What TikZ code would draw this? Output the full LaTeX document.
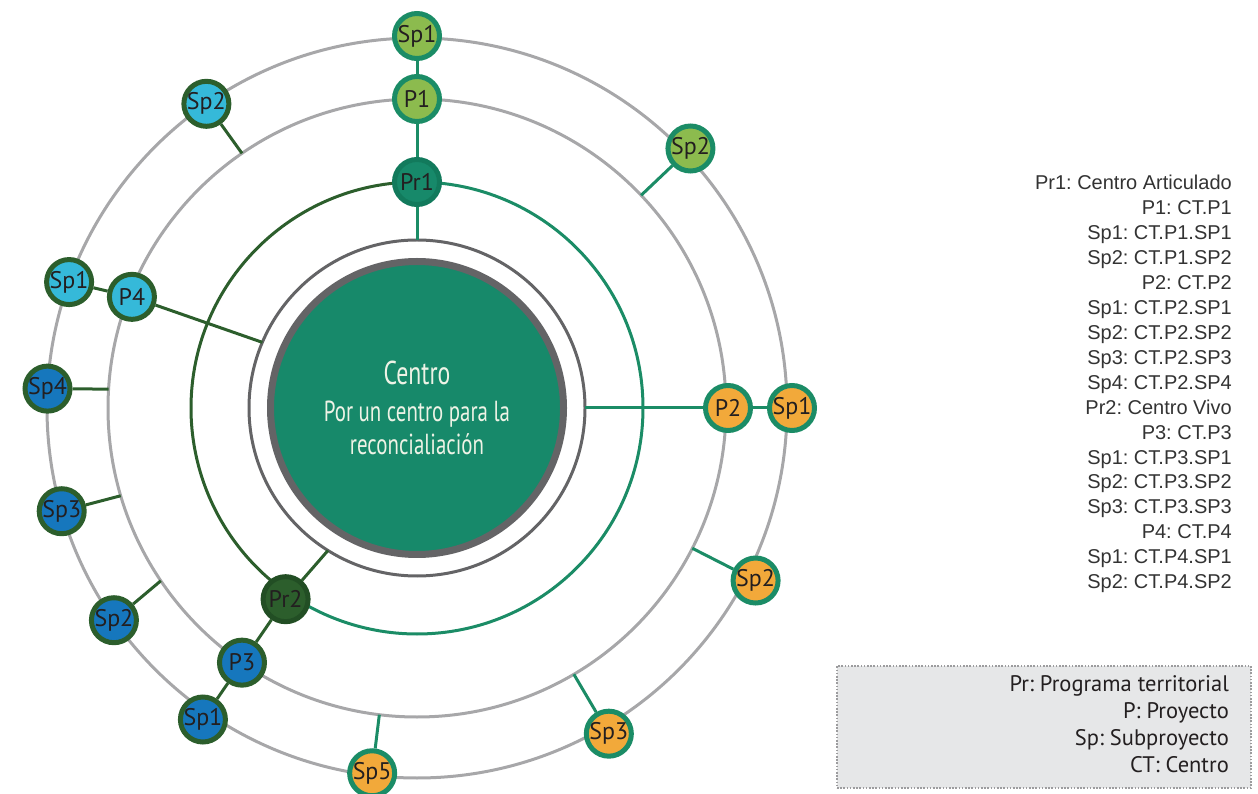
\documentclass[tikz,border=0pt]{standalone}
\usepackage{fontspec}
\usetikzlibrary{calc}
\frenchspacing
\newfontfamily\nodefont{PT Sans}
\newfontfamily\condfont[FakeStretch=0.72]{PT Sans}
\newfontfamily\legfont{Liberation Sans}
\definecolor{tealA}{HTML}{17896A}
\definecolor{tealB}{HTML}{1B8C66}
\definecolor{tealD}{HTML}{127A5C}
\definecolor{dgreen}{HTML}{2C5E2C}
\definecolor{dgreenB}{HTML}{224E24}
\definecolor{lgreen}{HTML}{8CBB4E}
\definecolor{orangeA}{HTML}{F2A93A}
\definecolor{blueA}{HTML}{1677BD}
\definecolor{cyanA}{HTML}{35B9D9}
\definecolor{ringgray}{HTML}{A7A7A9}
\definecolor{darkgray}{HTML}{646466}
\definecolor{txt}{HTML}{231F20}
\definecolor{legtxt}{HTML}{333333}
\definecolor{boxfill}{HTML}{E6E7E8}
\definecolor{boxline}{HTML}{9C9C9E}
\definecolor{ctext}{HTML}{EEF3E6}
\begin{document}
\begin{tikzpicture}[x=1pt,y=1pt,
  ring/.style={draw=ringgray,line width=3pt},
  thinring/.style={draw=darkgray,line width=3pt},
  tline/.style={draw=tealB,line width=3pt},
  dline/.style={draw=dgreen,line width=3pt},
  bub/.style={circle,minimum size=45pt,inner sep=0pt,line width=5pt,
    font=\nodefont\fontsize{24}{26}\selectfont,text=txt},
  bgreen/.style={bub,fill=lgreen,draw=tealB},
  borange/.style={bub,fill=orangeA,draw=tealB},
  bteal/.style={bub,fill=tealA,draw=tealD},
  bdark/.style={bub,fill=dgreen,draw=dgreenB},
  bblue/.style={bub,fill=blueA,draw=dgreen},
  bcyan/.style={bub,fill=cyanA,draw=dgreen}]
\useasboundingbox (0,0) rectangle (1258,793);
\coordinate (O) at (417,385);
% rings
\draw[ring] (O) circle[radius=370];
\draw[ring] (O) circle[radius=309];
\draw[tline] ($(O)+(90:226)$) arc[start angle=90,end angle=-125,radius=226];
\draw[dline] ($(O)+(90:226)$) arc[start angle=90,end angle=235,radius=226];
\draw[thinring] (O) circle[radius=168];
% disc
\node[circle,minimum size=293pt,inner sep=0pt,fill=tealA,draw=darkgray,line width=7pt,
  text=ctext,align=center,font=\condfont\fontsize{29}{33}\selectfont] (centro) at (O)
  {{\fontsize{33}{33}\selectfont Centro}\\[4pt]
   Por un centro para la\\
   reconcialiación};
% ring coordinates
\coordinate (t90) at ($(O)+(90:168)$);
\coordinate (t0) at ($(O)+(0:168)$);
\coordinate (t238) at ($(O)+(238:168)$);
\coordinate (t157) at ($(O)+(157:168)$);
\coordinate (m44) at ($(O)+(43.5:309)$);
\coordinate (m333) at ($(O)+(-27:309)$);
\coordinate (m300) at ($(O)+(-59.5:309)$);
\coordinate (m263) at ($(O)+(-97:309)$);
\coordinate (m214) at ($(O)+(214:309)$);
\coordinate (m196) at ($(O)+(196.5:309)$);
\coordinate (m176) at ($(O)+(176.5:309)$);
\coordinate (m124) at ($(O)+(124.5:309)$);
% nodes
\node[bgreen] (sp1a) at ($(O)+(90:372)$) {Sp1};
\node[bgreen] (p1) at ($(O)+(90:309)$) {P1};
\node[bteal] (pr1) at ($(O)+(90:226)$) {Pr1};
\node[bgreen] (sp2a) at ($(O)+(43.5:377)$) {Sp2};
\node[borange] (p2) at ($(O)+(0:311)$) {P2};
\node[borange] (sp1b) at ($(O)+(0:375)$) {Sp1};
\node[borange] (sp2b) at ($(O)+(-27:380)$) {Sp2};
\node[borange] (sp3b) at ($(O)+(-59.5:378)$) {Sp3};
\node[borange] (sp5b) at ($(O)+(-97:368)$) {Sp5};
\node[bdark] (pr2) at ($(O)+(235.5:232)$) {Pr2};
\node[bblue] (p3) at ($(O)+(235.5:309)$) {P3};
\node[bblue] (sp1c) at ($(O)+(235.5:378)$) {Sp1};
\node[bblue] (sp2d) at ($(O)+(215:370)$) {Sp2};
\node[bblue] (sp3d) at ($(O)+(196.2:370)$) {Sp3};
\node[bblue] (sp4d) at ($(O)+(177:370)$) {Sp4};
\node[bcyan] (p4) at ($(O)+(158.7:306)$) {P4};
\node[bcyan] (sp1e) at ($(O)+(160.1:370)$) {Sp1};
\node[bcyan] (sp2e) at ($(O)+(124.7:370)$) {Sp2};
% connectors
\draw[tline] (sp1a) -- (p1);
\draw[tline] (p1) -- (pr1);
\draw[tline] (pr1) -- (t90);
\draw[tline] (sp2a) -- (m44);
\draw[tline] (p2) -- (t0);
\draw[tline] (p2) -- (sp1b);
\draw[tline] (sp2b) -- (m333);
\draw[tline] (sp3b) -- (m300);
\draw[tline] (sp5b) -- (m263);
\draw[dline] (pr2) -- (t238);
\draw[dline] (pr2) -- (p3);
\draw[dline] (p3) -- (sp1c);
\draw[dline] (sp2d) -- (m214);
\draw[dline] (sp3d) -- (m196);
\draw[dline] (sp4d) -- (m176);
\draw[dline] (p4) -- (t157);
\draw[dline] (sp1e) -- (p4);
\draw[dline] (sp2e) -- (m124);
% legend
\node[anchor=north east,inner sep=0pt,align=right,text=legtxt,
  font=\legfont\fontsize{20}{24.94}\selectfont] (legend) at (1232,618)
  {Pr1: Centro Articulado\\ P1: CT.P1\\ Sp1: CT.P1.SP1\\ Sp2: CT.P1.SP2\\
   P2: CT.P2\\ Sp1: CT.P2.SP1\\ Sp2: CT.P2.SP2\\ Sp3: CT.P2.SP3\\ Sp4: CT.P2.SP4\\
   Pr2: Centro Vivo\\ P3: CT.P3\\ Sp1: CT.P3.SP1\\ Sp2: CT.P3.SP2\\ Sp3: CT.P3.SP3\\
   P4: CT.P4\\ Sp1: CT.P4.SP1\\ Sp2: CT.P4.SP2};
\node[draw=boxline,fill=boxfill,line width=2pt,dash pattern=on 1.6pt off 1.6pt,
  minimum width=414pt,minimum height=122pt,inner sep=0pt] (keybox) at (1044,66) {};
\node[anchor=north east,inner sep=0pt,align=right,text=txt,
  font=\nodefont\fontsize{22.5}{27}\selectfont] (keytext) at (1229,118)
  {Pr: Programa territorial\\ P: Proyecto\\ Sp: Subproyecto\\ CT: Centro};
\end{tikzpicture}
\end{document}
